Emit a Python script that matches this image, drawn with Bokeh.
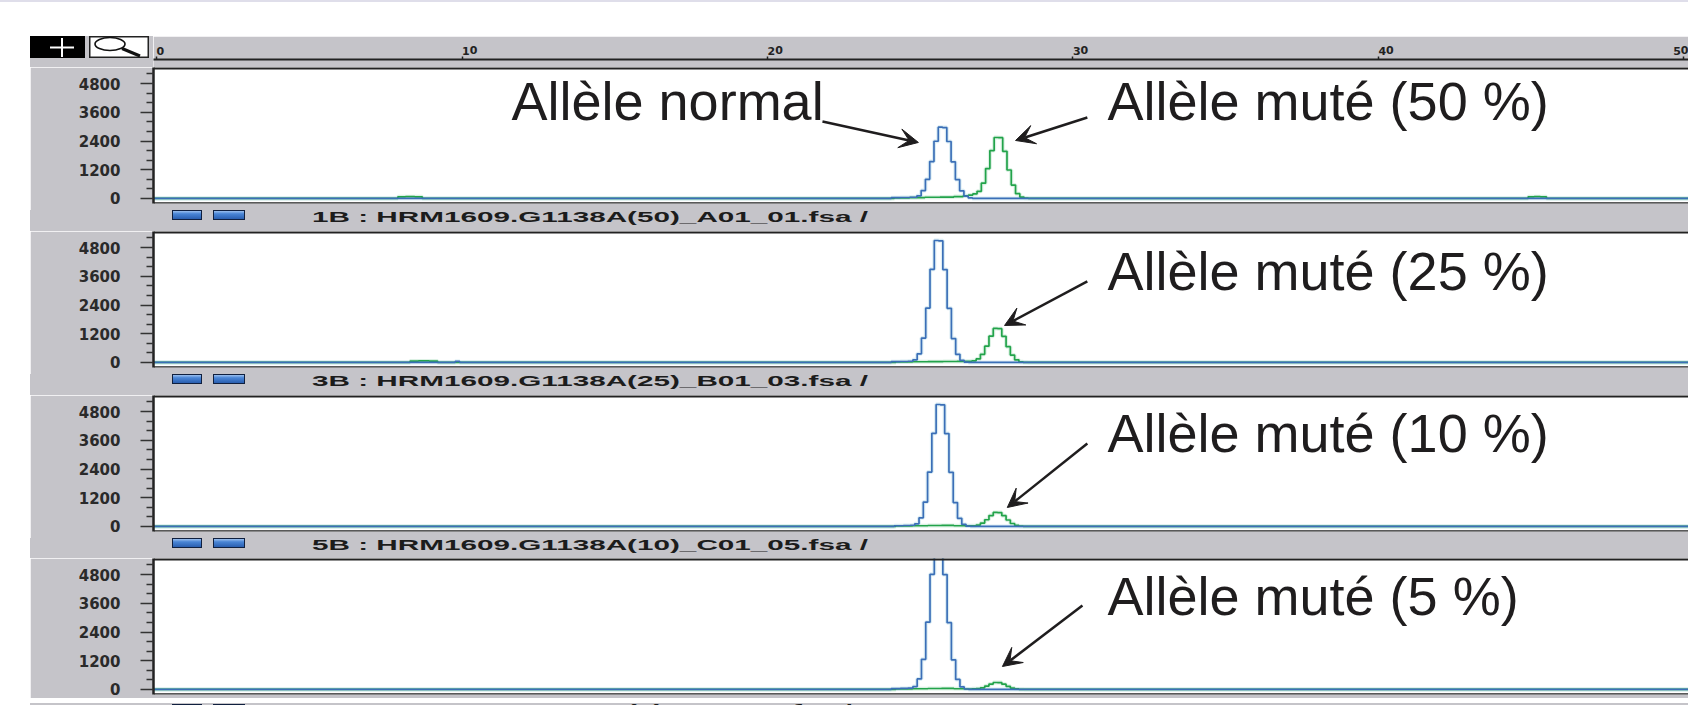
from bokeh.plotting import figure
from bokeh.models import Range1d, FixedTicker, Span, Arrow, VeeHead, Div, Spacer
from bokeh.layouts import column, row
from bokeh.embed import file_html
from bokeh.resources import INLINE
from bokeh.core.properties import value

# ---------------- data ----------------
ruler_ticks = [0, 10, 20, 30, 40, 50]
rfu_ticks = [0, 1200, 2400, 3600, 4800]
rfu_minor = [400, 800, 1600, 2000, 2800, 3200, 4000, 4400, 5200]

sample_names = [
    "1B : HRM1609.G1138A(50)_A01_01.fsa /",
    "3B : HRM1609.G1138A(25)_B01_03.fsa /",
    "5B : HRM1609.G1138A(10)_C01_05.fsa /",
    "7B : HRM1609.G1138A(5)_D01_07.fsa /",
]
normal_label = "Allèle normal"
mutant_labels = ["Allèle muté (50 %)", "Allèle muté (25 %)",
                 "Allèle muté (10 %)", "Allèle muté (5 %)"]

# panel 1 : 50 %
blue_x_50 = [-0.1, 23.9, 24.2, 24.5, 24.82, 24.96, 25.10, 25.24, 25.38, 25.52, 25.66,
             25.80, 25.94, 26.08, 26.22, 26.36, 26.50, 26.64, 26.78, 27.0, 50.15]
blue_y_50 = [0, 0, 35, 40, 50, 110, 330, 800, 1540, 2390, 2977,
             2960, 2380, 1530, 790, 320, 100, 25, 0, 0, 0]
green_x_50 = [-0.1, 7.8, 8.0, 8.3, 8.6, 8.8, 23.9, 24.4, 24.9, 25.4, 25.9, 26.3,
              26.51, 26.65, 26.79, 26.93, 27.07, 27.21, 27.35, 27.49, 27.63, 27.77,
              27.91, 28.05, 28.19, 28.33, 28.47, 28.61, 28.8, 44.8, 45.0, 45.2, 45.4,
              45.6, 50.15]
green_y_50 = [0, 0, 70, 75, 70, 0, 0, 20, 35, 50, 60, 80,
              110, 140, 190, 300, 640, 1250, 2000, 2547, 2540, 1970,
              1190, 560, 200, 55, 12, 0, 0, 0, 70, 75, 70,
              0, 0]

# panel 2 : 25 %
blue_x_25 = [-0.1, 9.7, 9.85, 10.0, 23.9, 24.2, 24.5, 24.69, 24.83, 24.97, 25.11,
             25.25, 25.39, 25.53, 25.67, 25.81, 25.95, 26.09, 26.23, 26.37, 26.51,
             26.65, 27.0, 50.15]
blue_y_25 = [0, 0, 45, 0, 0, 35, 40, 50, 110, 360, 1020,
             2270, 3890, 5095, 5080, 3880, 2260, 1000, 340, 85, 15,
             0, 0, 0]
green_x_25 = [-0.1, 8.2, 8.4, 8.75, 9.1, 9.3, 23.9, 24.5, 25.0, 25.5, 26.0, 26.4,
              26.62, 26.76, 26.90, 27.04, 27.18, 27.32, 27.46, 27.60, 27.74, 27.88,
              28.02, 28.16, 28.30, 28.44, 28.6, 50.15]
green_y_25 = [0, 0, 60, 65, 60, 0, 0, 20, 30, 35, 40, 45,
              50, 70, 150, 340, 680, 1100, 1420, 1410, 1090, 660,
              310, 110, 30, 6, 0, 0]

# panel 3 : 10 %
blue_x_10 = [-0.1, 24.0, 24.3, 24.6, 24.75, 24.89, 25.03, 25.17, 25.31, 25.45, 25.59,
             25.73, 25.87, 26.01, 26.15, 26.29, 26.43, 26.57, 26.71, 27.0, 50.15]
blue_y_10 = [0, 0, 30, 40, 50, 110, 360, 1020, 2270, 3890, 5095,
             5080, 3880, 2260, 1000, 340, 85, 15, 0, 0, 0]
green_x_10 = [-0.1, 23.9, 24.5, 25.0, 25.5, 25.9, 26.3, 26.62, 26.76, 26.90, 27.04,
              27.18, 27.32, 27.46, 27.60, 27.74, 27.88, 28.02, 28.16, 28.30, 28.44,
              28.6, 50.15]
green_y_10 = [0, 0, 20, 30, 40, 45, 30, 25, 30, 60, 140,
              280, 455, 585, 580, 450, 270, 125, 45, 12, 3,
              0, 0]

# panel 4 : 5 %
blue_x_5 = [-0.1, 23.9, 24.2, 24.5, 24.69, 24.83, 24.97, 25.11, 25.25, 25.39, 25.53,
            25.67, 25.81, 25.95, 26.09, 26.23, 26.37, 26.51, 26.65, 27.0, 50.15]
blue_y_5 = [0, 0, 35, 45, 55, 120, 440, 1260, 2810, 4810, 6300,
            6280, 4800, 2790, 1240, 420, 105, 20, 0, 0, 0]
green_x_5 = [-0.1, 23.9, 24.5, 25.0, 25.5, 25.9, 26.3, 26.62, 26.76, 26.90, 27.04,
             27.18, 27.32, 27.46, 27.60, 27.74, 27.88, 28.02, 28.16, 28.30, 28.5, 50.15]
green_y_5 = [0, 0, 20, 30, 40, 45, 30, 20, 25, 35, 70,
             140, 225, 292, 290, 220, 130, 60, 22, 6, 0, 0]

panels = [
    (blue_x_50, blue_y_50, green_x_50, green_y_50),
    (blue_x_25, blue_y_25, green_x_25, green_y_25),
    (blue_x_10, blue_y_10, green_x_10, green_y_10),
    (blue_x_5, blue_y_5, green_x_5, green_y_5),
]

# ---------------- annotation placement (data coordinates) ----------------
normal_text_pos = (11.62, 4051)
mutant_text_x = 31.13
mutant_text_y = [4051, 3800, 3895, 3904]
normal_arrow = (21.80, 3216, 24.94, 2339)
mutant_arrows = [(30.47, 3383, 28.12, 2422), (30.47, 3383, 27.76, 1545),
                 (30.47, 3466, 27.85, 793), (30.31, 3508, 27.69, 960)]

# ---------------- styles ----------------
GRAY = "#c5c4c9"
BLUE = "#3b6fb7"
GREEN = "#22a34a"
INK = "#1f1d1e"
FRAME = "#222222"
X_RANGE = (-0.1, 50.15)
Y_RANGE = (-210, 5470)
PANEL_FRAME_H = 136
PANEL_PAD_B = [7, 7, 7, 4]

x_rng = Range1d(*X_RANGE)

# ---- top ruler (x axis above) ----
ruler = figure(width=1535, height=31, x_range=x_rng, y_range=Range1d(0, 1),
               x_axis_location="above", y_axis_location=None,
               toolbar_location=None, output_backend="svg",
               min_border_left=0, min_border_right=0, min_border_top=23,
               min_border_bottom=0)
ruler.background_fill_color = GRAY
ruler.border_fill_color = GRAY
ruler.outline_line_color = None
ruler.xgrid.visible = False
ruler.ygrid.visible = False
rax = ruler.xaxis[0]
rax.ticker = FixedTicker(ticks=ruler_ticks, minor_ticks=[])
rax.major_tick_in = 0
rax.major_tick_out = 3
rax.minor_tick_in = 0
rax.minor_tick_out = 0
rax.major_tick_line_color = FRAME
rax.major_tick_line_width = 1.5
rax.major_label_orientation = 0.0001
rax.major_label_standoff = 6
rax.major_label_text_font = "DejaVu Sans"
rax.major_label_text_font_style = "bold"
rax.major_label_text_font_size = "11px"
rax.major_label_text_color = "#222222"
rax.axis_line_color = FRAME
rax.axis_line_width = 2

buttons_html = f"""<svg width="123" height="31" xmlns="http://www.w3.org/2000/svg" style="display:block">
<rect x="0" y="0" width="123" height="31" fill="{GRAY}"/>
<rect x="0" y="0" width="55" height="22" fill="#000"/>
<line x1="20" y1="11.5" x2="44" y2="11.5" stroke="#fff" stroke-width="2"/>
<line x1="32" y1="2" x2="32" y2="21" stroke="#fff" stroke-width="2"/>
<rect x="59.75" y="0.75" width="58.5" height="20.5" fill="#fff" stroke="#222" stroke-width="1.5"/>
<ellipse cx="80" cy="8" rx="15" ry="6.5" fill="none" stroke="#111" stroke-width="1.6"/>
<line x1="92" y1="12.5" x2="110" y2="20" stroke="#111" stroke-width="3"/>
</svg>"""
buttons = Div(text=buttons_html, width=123, height=31, margin=0,
              styles={"overflow": "hidden"})


def strip(name, h, btn_top, txt_top):
    btn = ("position:absolute;top:{t}px;left:{l}px;width:{w}px;height:10px;"
           "border:1.5px solid #10203f;"
           "background:linear-gradient(180deg,#9cc0ee 0%,#4a86d6 35%,#2a5fb0 100%);")
    html = (f'<div style="position:relative;width:1658px;height:{h}px;background:{GRAY};overflow:hidden;">'
            f'<div style="{btn.format(t=btn_top, l=142, w=30)}"></div>'
            f'<div style="{btn.format(t=btn_top, l=183, w=32)}"></div>'
            f'<div style="position:absolute;left:282px;top:{txt_top}px;font-family:\'Liberation Sans\';'
            f'font-weight:bold;font-size:14px;line-height:14px;color:#1c1c1c;white-space:nowrap;'
            f'transform:scaleX(2.12);transform-origin:0 0;">{name}</div></div>')
    return Div(text=html, width=1658, height=h, margin=0, styles={"overflow": "hidden"})


def panel(idx):
    bx, by, gx, gy = panels[idx]
    pad = PANEL_PAD_B[idx]
    p = figure(width=1658, height=PANEL_FRAME_H + pad, x_range=x_rng,
               y_range=Range1d(*Y_RANGE),
               x_axis_location=None, y_axis_location="left",
               toolbar_location=None, output_backend="svg",
               min_border_left=123, min_border_right=0, min_border_top=0,
               min_border_bottom=pad)
    p.background_fill_color = "white"
    p.border_fill_color = GRAY
    p.outline_line_color = None
    p.xgrid.visible = False
    p.ygrid.visible = False
    ax = p.yaxis[0]
    ax.ticker = FixedTicker(ticks=rfu_ticks, minor_ticks=rfu_minor)
    ax.axis_line_color = FRAME
    ax.axis_line_width = 2.5
    ax.major_tick_out = 13
    ax.major_tick_in = 0
    ax.minor_tick_out = 7
    ax.minor_tick_in = 0
    ax.major_tick_line_color = "#333333"
    ax.major_tick_line_width = 1.5
    ax.minor_tick_line_color = "#333333"
    ax.minor_tick_line_width = 1.3
    ax.major_label_standoff = 20
    ax.major_label_text_font = "DejaVu Sans"
    ax.major_label_text_font_style = "bold"
    ax.major_label_text_font_size = "15px"
    ax.major_label_text_color = "#2a2a2a"

    # traces (halo + line), green under blue
    p.step(gx, gy, mode="center", line_color="#cdebd8", line_width=4, line_alpha=0.7)
    p.step(bx, by, mode="center", line_color="#cde6f0", line_width=4, line_alpha=0.7)
    p.step(gx, gy, mode="center", line_color=GREEN, line_width=1.7)
    p.step(bx, by, mode="center", line_color=BLUE, line_width=1.7)

    # frame top / bottom
    p.add_layout(Span(location=Y_RANGE[1], dimension="width", line_color=FRAME, line_width=4))
    p.add_layout(Span(location=Y_RANGE[0], dimension="width", line_color=FRAME, line_width=2.5))

    # labels and arrows
    txt_kw = dict(text_font=value("Liberation Sans"), text_font_size="54px",
                  text_color=INK, text_baseline="alphabetic", text_align="left")
    if idx == 0:
        p.text(x=[normal_text_pos[0]], y=[normal_text_pos[1]], text=[normal_label], **txt_kw)
        x0, y0, x1, y1 = normal_arrow
        p.add_layout(Arrow(end=VeeHead(size=19, fill_color=INK, line_color=INK, line_width=1),
                           x_start=x0, y_start=y0, x_end=x1, y_end=y1,
                           line_color=INK, line_width=2.5))
    p.text(x=[mutant_text_x], y=[mutant_text_y[idx]], text=[mutant_labels[idx]], **txt_kw)
    x0, y0, x1, y1 = mutant_arrows[idx]
    p.add_layout(Arrow(end=VeeHead(size=19, fill_color=INK, line_color=INK, line_width=1),
                       x_start=x0, y_start=y0, x_end=x1, y_end=y1,
                       line_color=INK, line_width=2.5))
    return p


strip_h = [21, 21, 20, 7]
strip_btn_top = [0, 0, 0, 1]
strip_txt_top = [0, 0, 0, 0]

items = [row(buttons, ruler, spacing=0)]
for i in range(4):
    items.append(panel(i))
    items.append(strip(sample_names[i], strip_h[i], strip_btn_top[i], strip_txt_top[i]))

content = column(*items, spacing=0)
top_line = Div(text="", width=1688, height=2, margin=0,
               styles={"background-color": "#dfdeea"})
body = row(Spacer(width=30, height=1, margin=0),
           column(Spacer(width=1, height=34, margin=0), content, spacing=0), spacing=0)
root = column(top_line, body, spacing=0)

with open("out.html", "w", encoding="utf-8") as f:
    f.write(file_html(root, INLINE, title="Electrophorégramme"))
